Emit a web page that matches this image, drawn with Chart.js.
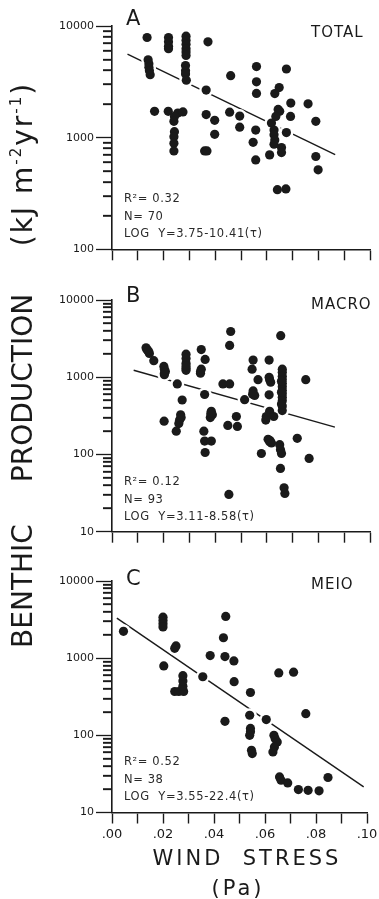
<!DOCTYPE html>
<html>
<head>
<meta charset="utf-8">
<script src="https://cdn.jsdelivr.net/npm/chart.js@4.4.1/dist/chart.umd.min.js"></script>
<style>
  body { margin: 0; background: #fff; width: 379px; height: 899px; overflow: hidden; position: relative;
         font-family: "DejaVu Sans", sans-serif; color: #1a1a1a; }
  .panel { position: absolute; left: 0; width: 379px; }
  .vlabel { position: absolute; left: 22px; transform: translate(-50%, -50%) rotate(-90deg);
            white-space: nowrap; font-size: 28px; }
  .vlabel sup { font-size: 15px; vertical-align: 11px; }
  .unit { letter-spacing: 2px; }
  .xlabel { position: absolute; transform: translate(-50%, -50%); white-space: nowrap;
            font-size: 21px; letter-spacing: 3px; }
</style>
</head>
<body>

<div class="panel" style="top:0;height:262px"><canvas id="chartA"></canvas></div>
<div class="panel" style="top:270px;height:275px"><canvas id="chartB"></canvas></div>
<div class="panel" style="top:550px;height:349px"><canvas id="chartC"></canvas></div>

<div class="vlabel" style="top:586px">BENTHIC</div>
<div class="vlabel" style="top:388px">PRODUCTION</div>
<div class="vlabel unit" style="top:164px">(kJ m<sup>-2</sup>yr<sup>-1</sup>)</div>
<div class="xlabel" style="left:247px;top:858px">WIND&nbsp;&nbsp;STRESS</div>
<div class="xlabel" style="left:238px;top:888px">(Pa)</div>

<script>
// ---------------- data (wind stress in Pa, production in kJ m-2 yr-1) ----------------

const totalX = [
  0.0136, 0.0140, 0.0143, 0.0143, 0.0145, 0.0148, 0.0219, 0.0219, 0.0219, 0.0219,
  0.0287, 0.0287, 0.0287, 0.0287, 0.0287, 0.0287, 0.0285, 0.0285, 0.0285, 0.0288,
  0.0372, 0.0365, 0.0165, 0.0218, 0.0255, 0.0275, 0.0242, 0.0240, 0.0242, 0.0240,
  0.0240, 0.0240, 0.0365, 0.0398, 0.0398, 0.0359, 0.0368, 0.0460, 0.0456, 0.0495,
  0.0495, 0.0560, 0.0560, 0.0560, 0.0557, 0.0547, 0.0557, 0.0631, 0.0648, 0.0644,
  0.0650, 0.0635, 0.0618, 0.0628, 0.0628, 0.0631, 0.0628, 0.0611, 0.0657, 0.0657,
  0.0676, 0.0676, 0.0641, 0.0674, 0.0693, 0.0692, 0.0760, 0.0790, 0.0790, 0.0799
];
const totalY = [
  7890, 4980, 4580, 4270, 3980, 3660, 7890, 7210, 6580, 6270,
  8110, 7460, 6860, 6270, 5850, 5450, 4420, 3980, 3720, 3270,
  7210, 2670, 1720, 1720, 1660, 1700, 1550, 1400, 1130, 1020,
  891, 760, 1610, 1430, 1070, 760, 760, 3590, 1690, 1560,
  1240, 4330, 3160, 2490, 1170, 909, 632, 2480, 2810, 1790,
  1720, 1550, 1350, 1170, 1060, 953, 873, 701, 815, 735,
  4120, 1110, 342, 347, 2040, 1550, 2010, 1400, 678, 515
];

const macroX = [
  0.0132, 0.0135, 0.0142, 0.0145, 0.0162, 0.0201, 0.0203, 0.0207, 0.0203, 0.0253,
  0.0272, 0.0287, 0.0287, 0.0287, 0.0287, 0.0287, 0.0266, 0.0262, 0.0259, 0.0202,
  0.0249, 0.0346, 0.0361, 0.0346, 0.0343, 0.0359, 0.0385, 0.0389, 0.0381, 0.0356,
  0.0359, 0.0385, 0.0361, 0.0430, 0.0456, 0.0460, 0.0456, 0.0449, 0.0486, 0.0482,
  0.0453, 0.0514, 0.0547, 0.0543, 0.0547, 0.0553, 0.0566, 0.0609, 0.0611, 0.0615,
  0.0609, 0.0611, 0.0598, 0.0596, 0.0627, 0.0605, 0.0611, 0.0618, 0.0579, 0.0654,
  0.0660, 0.0660, 0.0660, 0.0660, 0.0660, 0.0660, 0.0660, 0.0660, 0.0660, 0.0660,
  0.0660, 0.0660, 0.0650, 0.0653, 0.0657, 0.0653, 0.0667, 0.0670, 0.0718, 0.0751,
  0.0764, 0.0140, 0.0287, 0.0383, 0.0613, 0.0657, 0.0657, 0.0657, 0.0203, 0.0545,
  0.0609, 0.0268, 0.0343
];
const macroY = [
  2410, 2280, 2130, 2030, 1640, 1380, 1270, 1190, 1080, 820,
  507, 1990, 1750, 1520, 1310, 1230, 327, 279, 251, 270,
  200, 2280, 1700, 1270, 1130, 598, 362, 327, 300, 200,
  149, 149, 106, 820, 820, 3910, 2580, 238, 231, 310,
  30.4, 512, 1670, 1270, 665, 581, 929, 1670, 929, 864,
  592, 362, 310, 279, 310, 157, 146, 141, 103, 3450,
  1270, 1160, 1030, 929, 837, 754, 679, 611, 551, 496,
  424, 370, 134, 115, 103, 65.9, 37.1, 31.3, 162, 929,
  88.8, 2200, 1400, 340, 151, 890, 640, 450, 1130, 600,
  1000, 300, 1180
];

const meioX = [
  0.0045, 0.0200, 0.0200, 0.0200, 0.0200, 0.0203, 0.0251, 0.0246, 0.0246, 0.0262,
  0.0281, 0.0278, 0.0278, 0.0278, 0.0356, 0.0385, 0.0446, 0.0437, 0.0443, 0.0478,
  0.0479, 0.0443, 0.0543, 0.0540, 0.0543, 0.0543, 0.0540, 0.0547, 0.0550, 0.0605,
  0.0635, 0.0640, 0.0648, 0.0637, 0.0631, 0.0654, 0.0712, 0.0760, 0.0657, 0.0663,
  0.0689, 0.0731, 0.0769, 0.0812, 0.0847
];
const meioY = [
  2230, 3400, 3080, 2800, 2540, 794, 1440, 1340, 370, 370,
  370, 433, 507, 593, 574, 1080, 3470, 1840, 1050, 920,
  496, 152, 359, 182, 123, 111, 100, 64, 58, 160,
  100, 90.6, 82, 70.7, 60.8, 644, 658, 191, 28.9, 26.2,
  24.2, 19.8, 19.4, 19.1, 28.4
];

// regression lines, end points
const totalFitX = [0.0060, 0.0865];
const totalFitY = [5600, 705];
const macroFitX = [0.0084, 0.0864];
const macroFitY = [1230, 226];
const meioFitX = [0.0019, 0.0987];
const meioFitY = [3300, 21.5];

const panelLetters = ["A", "B", "C"];
const panelNames = ["TOTAL", "MACRO", "MEIO"];
const rSquared = ["0.32", "0.12", "0.52"];
const sampleN = ["70", "93", "38"];
const equations = ["3.75-10.41(τ)", "3.11-8.58(τ)", "3.55-22.4(τ)"];
const xTickLabels = [".00", ".02", ".04", ".06", ".08", ".10"];
const yDecades = [10, 100, 1000, 10000];

// ---------------- helpers ----------------

const ink = "#1a1a1a";
const fontFamily = '"DejaVu Sans", sans-serif';
const MINOR_TICK = 9;

function toPoints(xs, ys) {
  return xs.map((x, i) => ({ x: x, y: ys[i] }));
}

// short log ticks 2..9 inside each decade
function minorValues(min, max) {
  const out = [];
  yDecades.filter(d => d >= min && d < max).forEach(d => {
    for (let k = 2; k <= 9; k++) out.push(d * k);
  });
  return out;
}

// minor ticks, drawn from the y scale
const minorTicks = {
  id: "minorTicks",
  afterDraw(chart) {
    const y = chart.scales.y;
    const ctx = chart.ctx;
    const right = chart.chartArea.left;
    ctx.save();
    ctx.strokeStyle = ink;
    ctx.lineWidth = 1.5;
    ctx.beginPath();
    minorValues(y.min, y.max).forEach(v => {
      const py = Math.round(y.getPixelForValue(v));
      ctx.moveTo(right - MINOR_TICK, py);
      ctx.lineTo(right, py);
    });
    ctx.stroke();
    ctx.restore();
  }
};

// text inside each panel
const panelText = {
  id: "panelText",
  afterDraw(chart, args, opts) {
    const ctx = chart.ctx;
    const a = chart.chartArea;
    ctx.save();
    ctx.fillStyle = ink;
    ctx.textBaseline = "middle";
    ctx.textAlign = "left";

    ctx.font = "21px " + fontFamily;
    ctx.fillText(opts.letter, a.left + 14, a.top + opts.letterDy);

    ctx.font = "15px " + fontFamily;
    ctx.letterSpacing = "1px";
    ctx.fillText(opts.name, a.left + 199, a.top + opts.nameDy);

    ctx.fillStyle = "#2a2a2a";
    ctx.font = "11.5px " + fontFamily;
    ctx.letterSpacing = "0.6px";
    ctx.fillText("R²= " + opts.r2, a.left + 12, a.bottom - 50);
    ctx.fillText("N= " + opts.n, a.left + 12, a.bottom - 32);
    ctx.fillText("LOG  Y=" + opts.eq, a.left + 12, a.bottom - 15);
    ctx.restore();
  }
};

function makeChart(id, pts, fitX, fitY, idx, yMin, yMax, topPad, xHeight, rightPad, withLabels, letterDy, nameDy) {

  const ctx = document.getElementById(id).getContext("2d");

  return new Chart(ctx, {
    data: {
      datasets: [
        {
          type: "line",
          data: toPoints(fitX, fitY),
          borderColor: ink,
          borderWidth: 1.4,
          pointRadius: 0,
          order: 3
        },
        {
          // white halo so the fit line breaks around the dots
          type: "scatter",
          data: pts,
          pointRadius: 7,
          pointBackgroundColor: "#fff",
          pointBorderWidth: 0,
          order: 2
        },
        {
          type: "scatter",
          data: pts,
          pointRadius: 4.6,
          pointBackgroundColor: ink,
          pointBorderWidth: 0,
          order: 1
        }
      ]
    },
    options: {
      responsive: true,
      maintainAspectRatio: false,
      animation: false,
      events: [],
      layout: { padding: { top: topPad, right: rightPad, left: 0, bottom: 0 } },
      plugins: {
        legend: { display: false },
        tooltip: { enabled: false },
        panelText: {
          letter: panelLetters[idx], name: panelNames[idx],
          r2: rSquared[idx], n: sampleN[idx], eq: equations[idx],
          letterDy: letterDy, nameDy: nameDy
        }
      },
      scales: {
        x: {
          type: "linear",
          min: 0,
          max: 0.1,
          afterFit: s => { s.height = xHeight; s.paddingLeft = 0; s.paddingRight = 0; },
          border: { display: true, color: ink, width: 1.6 },
          grid: { drawOnChartArea: false, drawTicks: true, tickLength: 11, tickColor: ink, tickWidth: 1.4 },
          ticks: {
            stepSize: 0.01,
            autoSkip: false,
            maxRotation: 0,
            padding: 3,
            color: ink,
            font: { family: fontFamily, size: 13 },
            callback: v => {
              const k = Math.round(v * 100);
              return withLabels && k % 2 === 0 ? xTickLabels[k / 2] : "";
            }
          }
        },
        y: {
          type: "logarithmic",
          position: "left",
          weight: 1,
          min: yMin,
          max: yMax,
          afterBuildTicks: s => {
            s.ticks = yDecades.filter(v => v >= yMin && v <= yMax).map(v => ({ value: v, major: true }));
          },
          afterFit: s => { s.width = 112; s.paddingTop = 0; s.paddingBottom = 0; },
          border: { display: true, color: ink, width: 1.6 },
          grid: {
            drawOnChartArea: false,
            drawTicks: true,
            tickLength: 16,
            tickColor: ink,
            tickWidth: 1.3
          },
          ticks: {
            autoSkip: false,
            padding: 2,
            color: ink,
            font: { family: fontFamily, size: 11 },
            callback: v => String(Math.round(v))
          }
        },
        // zero-width twin axis that only carries the short minor ticks
        yMinor: {
          type: "logarithmic",
          position: "left",
          weight: 0,
          min: yMin,
          max: yMax,
          afterBuildTicks: s => {
            s.ticks = minorValues(yMin, yMax).map(v => ({ value: v }));
          },
          afterFit: s => { s.width = 0; s.paddingTop = 0; s.paddingBottom = 0; },
          border: { display: false },
          grid: {
            drawOnChartArea: false,
            drawTicks: true,
            tickLength: MINOR_TICK,
            tickColor: ink,
            tickWidth: 1.3
          },
          ticks: { autoSkip: false, padding: 0, callback: () => "" }
        }
      }
    },
    plugins: [minorTicks, panelText]
  });
}

makeChart("chartA", toPoints(totalX, totalY), totalFitX, totalFitY, 0, 100, 10000, 26, 12.7, 9, false, -6, 7);
makeChart("chartB", toPoints(macroX, macroY), macroFitX, macroFitY, 1, 10, 10000, 30, 13.3, 9, false, -3, 5);
makeChart("chartC", toPoints(meioX, meioY), meioFitX, meioFitY, 2, 10, 10000, 31, 86.5, 12, true, -1, 4);
</script>
</body>
</html>
